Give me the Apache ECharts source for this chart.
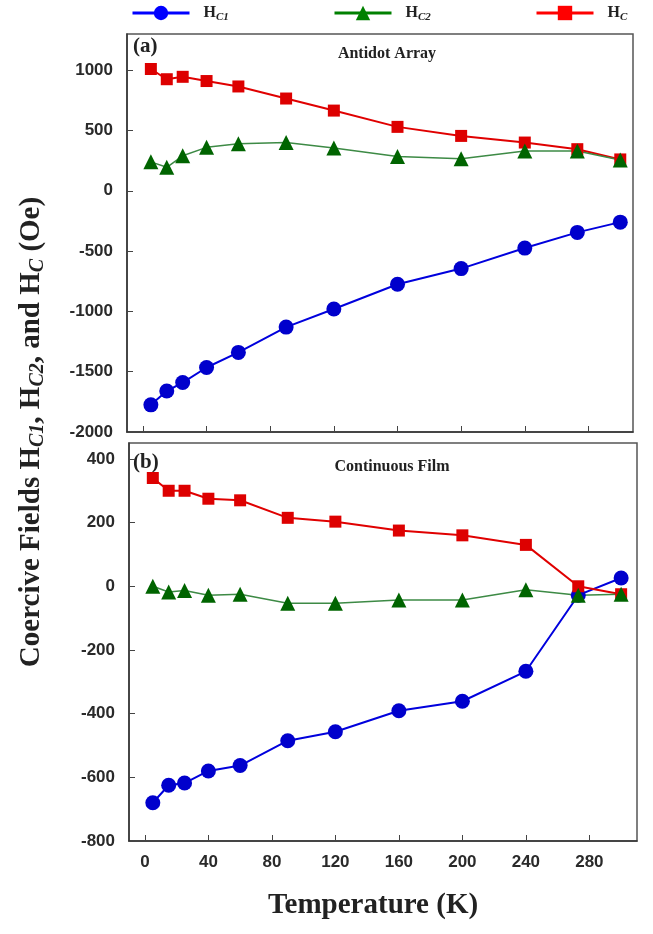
<!DOCTYPE html>
<html>
<head>
<meta charset="utf-8">
<script src="https://cdn.jsdelivr.net/npm/echarts@6/dist/echarts.min.js"></script>
<style>
  html, body { margin: 0; padding: 0; background: #fff; }
  #chart { width: 653px; height: 934px; }
</style>
</head>
<body>
<div id="chart"></div>
<script>
// temperatures (K)
const temps = [5, 15, 25, 40, 60, 90, 120, 160, 200, 240, 273, 300]

// (a) antidot array
const hc1A = [-1775, -1660, -1590, -1465, -1340, -1130, -980, -775, -645, -475, -345, -260]
const hc2A = [240, 195, 290, 360, 390, 400, 355, 285, 265, 330, 330, 255]
const hcA = [1010, 925, 945, 910, 865, 765, 665, 530, 455, 400, 345, 260]

// (b) continuous film
const hc1B = [-680, -625, -618, -580, -563, -485, -457, -391, -361, -267, -28, 26]
const hc2B = [0, -18, -13, -28, -25, -53, -53, -43, -43, -11, -28, -25]
const hcB = [340, 300, 300, 275, 270, 215, 203, 175, 160, 130, 0, -25]

const xTicks = [0, 40, 80, 120, 160, 200, 240, 280]
const yTicksA = [-2000, -1500, -1000, -500, 0, 500, 1000]
const yTicksB = [-800, -600, -400, -200, 0, 200, 400]

const pairs = ys => temps.map((t, i) => [t, ys[i]])

const serif = '"Liberation Serif", "DejaVu Serif", serif'
const sans = '"Liberation Sans", Arial, sans-serif'

const legendRich = {
  h: { fontFamily: serif, fontWeight: 'bold', fontSize: 16, color: '#222', lineHeight: 22 },
  s: { fontFamily: serif, fontWeight: 'bold', fontStyle: 'italic', fontSize: 11, color: '#222', padding: [9, 0, 0, 0], lineHeight: 22 }
}
const subName = { HC1: '{h|H}{s|C1}', HC2: '{h|H}{s|C2}', HC: '{h|H}{s|C}' }

const mkLegend = (name, left, color) => ({
  left: left, top: 3, padding: 0,
  itemWidth: 57, itemHeight: 18, itemGap: 0,
  data: [{ name: name, itemStyle: { color: color }, lineStyle: { color: color, width: 3 } }],
  formatter: n => subName[n],
  textStyle: { rich: legendRich, padding: [0, 0, 0, 9] }
})

const xAxisBase = {
  type: 'value',
  axisLine: { show: true, onZero: false, lineStyle: { color: '#333', width: 1.5 } },
  axisTick: { inside: true, length: 6, customValues: xTicks, lineStyle: { color: '#444' } },
  splitLine: { show: false }
}
const yAxisBase = {
  type: 'value',
  axisLine: { show: true, onZero: false, lineStyle: { color: '#333', width: 1.5 } },
  splitLine: { show: false },
  axisLabel: { fontFamily: sans, fontWeight: 'bold', fontSize: 17, color: '#2a2a2a', margin: 14, formatter: v => String(v) }
}

const lineSeries = (name, data, idx, color, lineColor, symbol, size, width) => ({
  name: name, type: 'line', data: data, xAxisIndex: idx, yAxisIndex: idx,
  symbol: symbol, symbolSize: size,
  itemStyle: { color: color },
  lineStyle: { color: lineColor, width: width },
  emphasis: { disabled: true }
})

const blue = '#0000cc', red = '#dd0000', green = '#006400'

const chart = echarts.init(document.getElementById('chart'), null, { renderer: 'canvas' })
chart.setOption({
  animation: false,
  legend: [
    mkLegend('HC1', 131, '#0000ff'),
    mkLegend('HC2', 333, '#008000'),
    mkLegend('HC', 535, '#ff0000')
  ],
  grid: [
    { left: 127, top: 34, width: 506, height: 398, show: true, borderColor: '#555', borderWidth: 1.5 },
    { left: 129, top: 443, width: 508, height: 398, show: true, borderColor: '#555', borderWidth: 1.5 }
  ],
  xAxis: [
    Object.assign({}, xAxisBase, { gridIndex: 0, min: -10, max: 308, axisLabel: { show: false } }),
    Object.assign({}, xAxisBase, {
      gridIndex: 1, min: -10, max: 310,
      axisLabel: { customValues: xTicks, fontFamily: sans, fontWeight: 'bold', fontSize: 17, color: '#2a2a2a', margin: 13 }
    })
  ],
  yAxis: [
    Object.assign({}, yAxisBase, {
      gridIndex: 0, min: -2000, max: 1300,
      axisTick: { inside: true, length: 6, customValues: yTicksA, lineStyle: { color: '#444' } },
      axisLabel: Object.assign({}, yAxisBase.axisLabel, { customValues: yTicksA })
    }),
    Object.assign({}, yAxisBase, {
      gridIndex: 1, min: -800, max: 450,
      axisTick: { inside: true, length: 6, customValues: yTicksB, lineStyle: { color: '#444' } },
      axisLabel: Object.assign({}, yAxisBase.axisLabel, { customValues: yTicksB })
    })
  ],
  series: [
    lineSeries('HC1', pairs(hc1A), 0, blue, '#0000dd', 'circle', 15, 2),
    lineSeries('HC', pairs(hcA), 0, red, '#e00000', 'rect', 12, 2),
    lineSeries('HC2', pairs(hc2A), 0, green, '#3d8a45', 'triangle', 15, 1.5),
    lineSeries('HC1', pairs(hc1B), 1, blue, '#0000dd', 'circle', 15, 2),
    lineSeries('HC', pairs(hcB), 1, red, '#e00000', 'rect', 12, 2),
    lineSeries('HC2', pairs(hc2B), 1, green, '#3d8a45', 'triangle', 15, 1.5)
  ],
  graphic: [
    { type: 'text', left: 133, top: 36, style: { text: '(a)', font: 'bold 21px ' + serif, fill: '#222' } },
    { type: 'text', x: 387, y: 54, style: { text: 'Antidot Array', font: 'bold 16px ' + serif, fill: '#222', align: 'center', verticalAlign: 'middle' } },
    { type: 'text', left: 133, top: 452, style: { text: '(b)', font: 'bold 21px ' + serif, fill: '#222' } },
    { type: 'text', x: 392, y: 467, style: { text: 'Continuous Film', font: 'bold 16px ' + serif, fill: '#222', align: 'center', verticalAlign: 'middle' } },
    { type: 'text', x: 373, y: 906, style: { text: 'Temperature (K)', font: 'bold 29px ' + serif, fill: '#222', align: 'center', verticalAlign: 'middle' } },
    {
      type: 'text', x: 32, y: 432, rotation: Math.PI / 2,
      style: {
        text: '{b|Coercive Fields H}{s|C1}{b|, H}{s|C2}{b|, and H}{s|C}{b| (Oe)}',
        align: 'center', verticalAlign: 'middle',
        rich: {
          b: { fontFamily: serif, fontWeight: 'bold', fontSize: 29, fill: '#222', lineHeight: 33 },
          s: { fontFamily: serif, fontWeight: 'bold', fontStyle: 'italic', fontSize: 20, fill: '#222', lineHeight: 33, padding: [11, 0, 0, 0] }
        }
      }
    }
  ]
})
</script>
</body>
</html>
